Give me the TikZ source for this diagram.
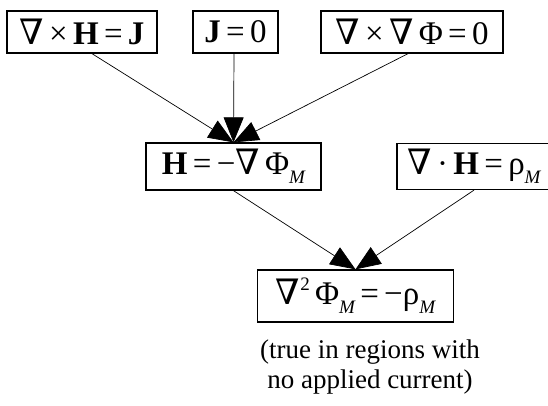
\documentclass[tikz,border=0pt]{standalone}
\usepackage{fontspec}
\setmainfont{Liberation Serif}
\newfontfamily\symf{DejaVu Serif}
\usetikzlibrary{arrows.meta}
\newcommand{\nab}{{\symf\fontsize{35}{38}\selectfont ∇}}
\newcommand{\gapsp}{\hspace{0.16em}}
\newcommand{\subM}{\raisebox{-0.28em}{\fontsize{19}{19}\selectfont\itshape M}}
\newcommand{\supTwo}{\raisebox{0.42em}{\fontsize{19}{19}\selectfont 2}}
\tikzset{
  eqbox/.style={draw, line width=1.3pt, inner sep=0pt, font=\fontsize{33}{38}\selectfont},
  arr/.style={-{Triangle[length=25pt,width=20pt]}, line width=0.7pt},
  note/.style={align=center, font=\fontsize{27}{30}\selectfont}
}
\begin{document}
\begin{tikzpicture}[x=1pt,y=-1pt]
\useasboundingbox (0,0) rectangle (548,406);
\node[eqbox, minimum width=150pt, minimum height=42pt] (b1) at (82,32) {\nab\gapsp×\gapsp\textbf{H}\gapsp=\gapsp\textbf{J}};
\node[eqbox, minimum width=85pt, minimum height=42pt] (b2) at (235.5,32) {\textbf{J}\gapsp=\gapsp0};
\node[eqbox, minimum width=182pt, minimum height=42pt] (b3) at (412,32) {\nab\gapsp×\gapsp\nab\gapsp Φ\gapsp=\gapsp0};
\node[eqbox, minimum width=175pt, minimum height=47pt] (b4) at (233.5,166.5) {\textbf{H}\gapsp=\gapsp−\nab\gapsp Φ\subM};
\node[eqbox, minimum width=154pt, minimum height=46pt] (b5) at (474,166.5) {\nab\gapsp·\gapsp\textbf{H}\gapsp=\gapsp ρ\subM};
\node[eqbox, minimum width=196pt, minimum height=52pt] (b6) at (355.5,296) {\nab\supTwo\gapsp Φ\subM\gapsp=\gapsp−ρ\subM};
\node[note] (n) at (370,367) {(true in regions with\\no applied current)};
\draw[arr] ([xshift=10pt]b1.south) -- (b4.north);
\draw[arr] ([xshift=-1.5pt]b2.south) -- (b4.north);
\draw[arr] ([xshift=-4pt]b3.south) -- (b4.north);
\draw[arr] (b4.south) -- (b6.north);
\draw[arr] (b5.south) -- (b6.north);
\end{tikzpicture}
\end{document}
